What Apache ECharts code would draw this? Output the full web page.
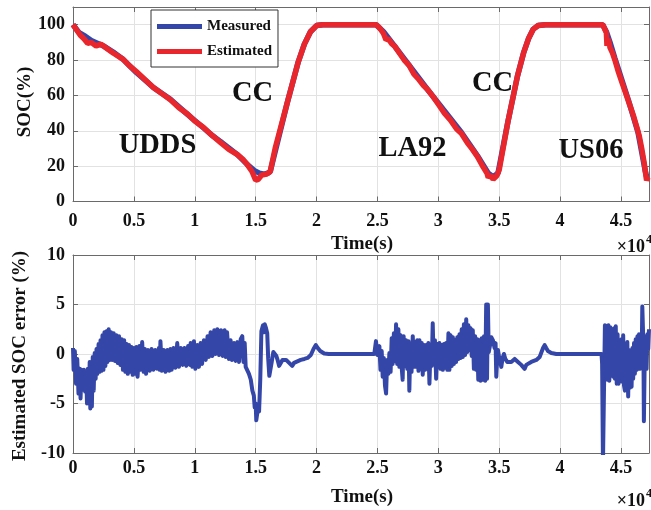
<!DOCTYPE html>
<html><head><meta charset="utf-8">
<script src="https://cdn.jsdelivr.net/npm/echarts@6/dist/echarts.min.js"></script>
<style>html,body{margin:0;padding:0;background:#fff}#c{width:651px;height:510px}</style>
</head><body><div id="c"></div>
<script>
// ---------- data (time in seconds) ----------
const timeMax = 47300;
const timeInterval = 5000;
const socTicks = [0, 20, 40, 60, 80, 100];
const errTicks = [-10, -5, 0, 5, 10];

const measuredSOC = [
  [0,100],[500,95.5],[1000,93.5],[1500,91],[2500,88],[3300,84.5],[4100,80.5],[5200,73],
  [6600,64.5],[8000,57.8],[9400,49.3],[10700,41.7],[11500,37],[12100,34],[13500,26.5],
  [14300,21],[14900,17.5],[15300,16],[15700,15.5],[16000,16],[16200,17],[17600,56],
  [18500,79],[19000,89],[19500,96],[20000,99.5],[20500,100],[24900,100],[25500,96],
  [26400,88],[29100,63.5],[31900,39],[33200,26],[34100,16],[34500,14],[34900,16],
  [35700,44.6],[36500,71],[37000,84],[37400,92],[37800,97.5],[38200,99.5],[38800,100],
  [43500,100],[43800,96],[44100,90],[44500,81],[45600,57.5],[46400,39],[47000,17],
  [47100,14],[47300,14]
];
const estimatedSOC = [
  [0,100],[300,97],[600,94],[900,92],[1200,89.5],[1500,90],[1900,88],[2300,89],[2700,87],
  [3300,84],[4100,80.5],[4600,77],[5200,73.5],[5900,69],[6600,64.5],[7300,61],[8000,57.5],
  [8700,53],[9400,49.5],[10000,45.5],[10700,42],[11400,37.5],[12100,33.5],[12800,29.5],
  [13500,26.5],[14000,23.5],[14300,21],[14700,17],[15000,12],[15200,12.5],[15500,15],
  [15900,15.5],[16200,17],[16600,30],[17600,56],[18500,79],[19000,89],[19500,96],
  [20000,99.5],[20500,100],[24900,100],[25200,98],[25500,95],[25700,91.5],[25900,92],
  [26200,89],[26400,88],[26800,84],[27200,80],[27600,77],[28000,72],[28400,69],[28800,65.5],
  [29100,63.5],[29600,59],[30000,55],[30500,50],[31000,46],[31500,41],[31900,38.5],
  [32400,33],[32800,29.5],[33200,25.5],[33600,20.5],[34000,16],[34100,13.5],[34300,15],
  [34500,12.5],[34800,14.5],[35000,18],[35700,44.6],[36500,71],[37000,84],[37400,92],
  [37800,97.5],[38200,99.5],[38800,100],[43500,100],[43700,97],[43800,95.5],[43850,88],
  [43950,92],[44100,87],[44300,84],[44500,80],[44800,73],[45100,67],[45400,61],[45700,55],
  [46000,49],[46300,42],[46500,37],[46700,30],[46900,22],[47000,17],[47100,12],[47200,13.5],
  [47300,14]
];

const errUDDS = [
  [0,0.6],[50,-1.6],[150,0.3],[250,-3.0],[350,-0.5],[450,-4.0],[550,-1.5],[620,-4.5],
  [700,-1.6],[800,-3.6],[900,-1.6],[1000,-3.8],[1080,-1.8],[1150,-5.0],[1220,-1.5],
  [1300,-4.8],[1370,-0.8],[1420,-5.5],[1480,-1.0],[1550,-5.3],[1620,-0.3],[1700,-3.7],
  [1780,0.1],[1860,-2.5],[1930,0.5],[2000,-2.0],[2100,1.0],[2180,-1.8],[2260,1.4],
  [2340,-1.7],[2420,1.9],[2500,-1.6],[2580,2.2],[2660,-1.2],[2750,2.3],[2830,-0.8],
  [2930,2.5],[3020,-0.6],[3120,2.2],[3220,-0.6],[3340,2.1],[3450,-0.7],[3560,1.9],
  [3670,-0.9],[3780,1.8],[3890,-1.1],[4000,1.5],[4100,-1.6],[4200,1.4],[4300,-1.8],
  [4400,1.0],[4500,-2.0],[4600,0.9],[4700,-1.8],[4800,0.7],[4900,-2.1],[5000,0.6],
  [5100,-2.0],[5200,0.7],[5300,-2.3],[5450,0.8],[5550,-1.6],[5680,1.2],[5800,-1.8],
  [5900,0.5],[6000,-2.0],[6150,0.4],[6300,-1.7],[6450,0.5],[6600,-1.6],[6750,0.4],
  [6900,-1.5],[7050,0.6],[7120,-1.6],[7180,1.3],[7300,-1.7],[7450,0.4],[7600,-1.8],
  [7750,0.4],[7900,-1.7],[8000,0.5],[8100,-1.6],[8250,0.6],[8400,-1.4],[8560,1.1],
  [8700,-1.3],[8850,0.6],[9000,-1.1],[9150,0.6],[9300,-1.2],[9450,0.8],[9600,-1.1],
  [9660,1.1],[9800,-1.3],[9930,1.3],[10050,-1.5],[10200,0.9],[10340,-1.3],[10480,1.1],
  [10600,-1.0],[10750,1.4],[10900,-0.6],[11050,1.8],[11160,-0.3],[11300,2.2],[11450,-0.2],
  [11600,2.4],[11700,0.0],[11850,2.5],[12000,-0.1],[12150,2.4],[12300,-0.2],[12450,2.4],
  [12540,-0.3],[12650,2.2],[12800,-0.5],[12940,1.4],[13050,-0.6],[13220,1.1],[13350,-0.7],
  [13500,1.2],[13630,-0.8],[13770,1.5],[13900,1.8],[14000,-0.8],[14100,1.1],[14180,-1.3]
];
const errCC1 = [
  [14300,-1.5],[14450,-2.0],[14600,-2.6],[14730,-3.7],[14850,-4.2],[14920,-5.4],[15000,-5.0],
  [15050,-6.7],[15150,-6.6],[15220,-5.2],[15280,-5.8],[15380,-2.5],
  [15470,2.3],[15600,2.9],[15680,2.2],[15750,3.0],[15830,2.7],[15950,2.1],[16030,-0.5],[16120,-2.2],
  [16220,-2.3],[16320,-0.8],[16450,0.2],[16570,0.3],[16700,-0.2],[16800,-0.6],[16930,-1.2],
  [17000,-1.0],[17200,-0.6],[17350,-0.5],[17500,-0.6],[17750,-0.9],[18000,-1.2],[18150,-0.9],
  [18300,-0.8],[18700,-0.6],[19000,-0.5],[19260,-0.4],[19530,-0.1],[19750,0.5],[19940,0.9],
  [20100,0.6],[20300,0.3],[20630,0.05],[21000,0],[24740,0]
];
const errLA92 = [
  [24880,1.3],[25000,-0.1],[25160,0.8],[25250,-1.6],[25350,0.3],[25430,-2.3],[25520,-0.4],
  [25620,-3.2],[25710,-4.0],[25800,-0.6],[25900,-2.0],[25980,0.1],[26080,-1.8],[26170,1.6],
  [26250,-1.0],[26350,2.1],[26450,-0.7],[26530,3.0],[26620,-1.0],[26720,2.5],[26800,-1.3],
  [26900,1.9],[27000,-1.5],[27070,-2.6],[27150,1.8],[27250,-1.2],[27350,1.4],[27450,-1.5],
  [27550,1.3],[27620,-3.7],[27700,0.8],[27800,-1.8],[27900,1.8],[28000,-1.3],[28100,1.2],
  [28170,-1.3],[28270,1.4],[28370,-1.7],[28450,1.4],[28550,-1.5],[28640,1.1],[28720,-2.1],
  [28820,0.9],[28900,-1.6],[29000,0.9],[29100,-1.5],[29180,1.1],[29270,-3.0],[29360,0.5],
  [29460,-1.2],[29540,3.1],[29620,-1.0],[29720,1.4],[29820,-2.5],[29920,1.0],[30000,-1.3],
  [30090,1.1],[30180,-1.5],[30280,0.9],[30370,-1.6],[30460,1.0],[30550,-1.4],[30640,1.1],
  [30740,-1.6],[30830,2.1],[30910,-1.6],[31000,1.9],[31100,-1.2],[31190,1.7],[31280,-1.0],
  [31370,1.4],[31460,-0.8],[31560,1.7],[31650,-0.5],[31740,2.0],[31830,-0.4],[31920,2.5],
  [32010,-0.3],[32100,3.0],[32200,-0.1],[32290,3.5],[32380,0.2],[32470,2.9],[32560,0.4],
  [32650,2.6],[32740,-0.2],[32830,2.4],[32920,-1.5],[33020,1.8],[33110,-1.6],[33200,1.5],
  [33280,-2.6],[33380,1.4],[33470,-2.7],[33560,1.6],[33660,-2.6],[33750,1.8],[33850,-2.7],
  [33930,5.0],[34000,-2.5],[34070,5.0],[34140,0.2],[34250,0.9],[34350,1.7],[34480,1.4],
  [34620,0.6],[34700,1.1],[34760,-2.3],[34830,-0.5],[34900,0.4],[35000,-0.4],[35170,-1.3],
  [35280,-0.4],[35390,0.0],[35500,-0.5],[35660,-0.8],[35800,-1.0],[35990,-0.8],[36270,-0.5],
  [36540,-0.8],[36810,-1.1],[37090,-1.5],[37220,-1.1],[37360,-0.9],[37630,-0.8],[38050,-0.6],
  [38320,-0.3],[38600,0.6],[38730,0.9],[38860,0.6],[39000,0.3],[39280,0.1],[39690,0.0],
  [43400,0.0]
];
const errUS06 = [
  [43450,-1.0],[43520,-11],[43600,-11],[43680,2.9],[43750,-2.0],[43820,2.8],[43900,-2.6],
  [43970,2.9],[44040,-2.7],[44120,2.7],[44200,-1.5],[44280,2.2],[44360,-2.3],[44430,2.6],
  [44500,-2.5],[44570,2.8],[44650,-3.0],[44720,2.0],[44800,-3.0],[44880,1.0],[44960,-2.2],
  [45040,1.5],[45100,-2.8],[45180,1.9],[45250,-3.2],[45320,-3.7],[45380,0.8],[45450,-2.9],
  [45520,1.2],[45590,-4.3],[45660,0.4],[45730,-3.4],[45800,0.2],[45870,-3.3],[45940,0.6],
  [46000,-2.5],[46070,1.1],[46140,-2.0],[46210,1.5],[46280,-1.6],[46350,1.8],[46410,-1.2],
  [46480,2.0],[46550,-1.5],[46620,1.0],[46690,-1.0],[46750,4.8],[46800,4.8],[46840,1.0],
  [46880,-6.8],[46920,-6.7],[46960,0.5],[47030,1.8],[47100,-1.5],[47170,2.0],[47240,0.5],
  [47300,2.5]
];
const errorSOC = errUDDS.concat(errCC1, errLA92, errUS06);

const cycleLabels = ['UDDS', 'CC', 'LA92', 'CC', 'US06'];
const seriesNames = ['Measured', 'Estimated'];

// ---------- styling ----------
const FONT = '"Liberation Serif", "Times New Roman", serif';
const BLUE = '#3446a8';
const RED = '#e8262b';
const GRID_LINE = '#e2e2e2';
const AXIS = '#6a6a6a';

const chart = echarts.init(document.getElementById('c'), null, {renderer: 'canvas'});

function xAxisMain(gridIndex, margin) {
  return {
    type: 'value', gridIndex, min: 0, max: timeMax, interval: timeInterval,
    axisLine: {show: true, onZero: false, lineStyle: {color: AXIS, width: 1}},
    axisTick: {show: true, inside: true, length: 5, lineStyle: {color: AXIS}},
    splitLine: {show: true, lineStyle: {color: GRID_LINE, width: 1}},
    axisLabel: {show: true, margin, showMaxLabel: false, color: '#111', fontFamily: FONT,
      fontWeight: 'bold', fontSize: 18, formatter: v => String(v / 10000)}
  };
}
function xAxisTop(gridIndex) {
  return {
    type: 'value', gridIndex, min: 0, max: timeMax, interval: timeInterval, position: 'top',
    axisLine: {show: true, onZero: false, lineStyle: {color: AXIS, width: 1}},
    axisTick: {show: true, inside: true, length: 5, lineStyle: {color: AXIS}},
    splitLine: {show: false}, axisLabel: {show: false}
  };
}
function yAxisMain(gridIndex, min, max, interval) {
  return {
    type: 'value', gridIndex, min, max, interval,
    axisLine: {show: true, onZero: false, lineStyle: {color: AXIS, width: 1}},
    axisTick: {show: true, inside: true, length: 5, lineStyle: {color: AXIS}},
    splitLine: {show: true, lineStyle: {color: GRID_LINE, width: 1}},
    axisLabel: {show: true, margin: 8, showMaxLabel: max === 10, color: '#111', fontFamily: FONT,
      fontWeight: 'bold', fontSize: 18}
  };
}
function yAxisRight(gridIndex, min, max, interval) {
  return {
    type: 'value', gridIndex, min, max, interval, position: 'right',
    axisLine: {show: true, onZero: false, lineStyle: {color: AXIS, width: 1}},
    axisTick: {show: true, inside: true, length: 5, lineStyle: {color: AXIS}},
    splitLine: {show: false}, axisLabel: {show: false}
  };
}

function txt(text, x, y, size, extra) {
  return Object.assign({
    type: 'text', x, y, silent: true, z: 100,
    style: {text, fill: '#111', font: 'bold ' + size + 'px ' + FONT,
      align: 'center', verticalAlign: 'middle'}
  }, extra || {});
}
function sideTxt(text, x, y, size, align) {
  return {type: 'text', x, y, silent: true, z: 100,
    style: {text, fill: '#111', font: 'bold ' + size + 'px ' + FONT, align, verticalAlign: 'middle'}};
}

const graphics = [
  // axis titles
  txt('SOC(%)', 25, 102, 19, {rotation: Math.PI / 2}),
  txt('Estimated SOC error (%)', 20, 356, 19, {rotation: Math.PI / 2}),
  txt('Time(s)', 362, 244, 19),
  txt('Time(s)', 362, 497, 19),
  // exponent labels
  sideTxt('\u00d710', 645, 247, 18, 'right'),
  sideTxt('4', 646, 240, 12, 'left'),
  sideTxt('\u00d710', 645, 501, 18, 'right'),
  sideTxt('4', 646, 494, 12, 'left'),
  // cycle annotations
  txt(cycleLabels[0], 157.5, 146, 28.5),
  txt(cycleLabels[1], 252.5, 94, 28.5),
  txt(cycleLabels[2], 412.5, 148.5, 28.5),
  txt(cycleLabels[3], 492.5, 83.5, 28.5),
  txt(cycleLabels[4], 591, 150.5, 28.5)
];

const option = {
  animation: false,
  backgroundColor: '#fff',
  grid: [
    {left: 73, top: 7, width: 576, height: 194.5, show: false},
    {left: 73, top: 255, width: 576, height: 198, show: false}
  ],
  xAxis: [xAxisMain(0, 11), xAxisMain(1, 6), xAxisTop(0), xAxisTop(1)],
  yAxis: [yAxisMain(0, 0, 110, 20), yAxisMain(1, -10, 10, 5), yAxisRight(0, 0, 110, 20), yAxisRight(1, -10, 10, 5)],
  legend: {
    data: seriesNames, orient: 'vertical', left: 151, top: 10,
    padding: [9, 6, 8, 6], itemGap: 10, itemWidth: 45, itemHeight: 14,
    backgroundColor: '#fff', borderColor: '#333', borderWidth: 1, borderRadius: 0,
    textStyle: {fontFamily: FONT, fontWeight: 'bold', fontSize: 15, color: '#111'},
    icon: 'path://M0,0 L45,0 L45,5 L0,5 Z'
  },
  graphic: graphics,
  series: [
    {name: seriesNames[0], type: 'line', xAxisIndex: 0, yAxisIndex: 0, data: measuredSOC,
      showSymbol: false, symbol: 'none', lineStyle: {color: BLUE, width: 5.5}, itemStyle: {color: BLUE}, z: 2},
    {name: seriesNames[1], type: 'line', xAxisIndex: 0, yAxisIndex: 0, data: estimatedSOC,
      showSymbol: false, symbol: 'none', lineStyle: {color: RED, width: 5.5}, itemStyle: {color: RED}, z: 3},
    {name: 'Error', type: 'line', xAxisIndex: 1, yAxisIndex: 1, data: errorSOC,
      showSymbol: false, symbol: 'none', lineStyle: {color: BLUE, width: 4, join: 'round'}, itemStyle: {color: BLUE}, z: 2}
  ]
};
chart.setOption(option);
</script>
</body></html>
